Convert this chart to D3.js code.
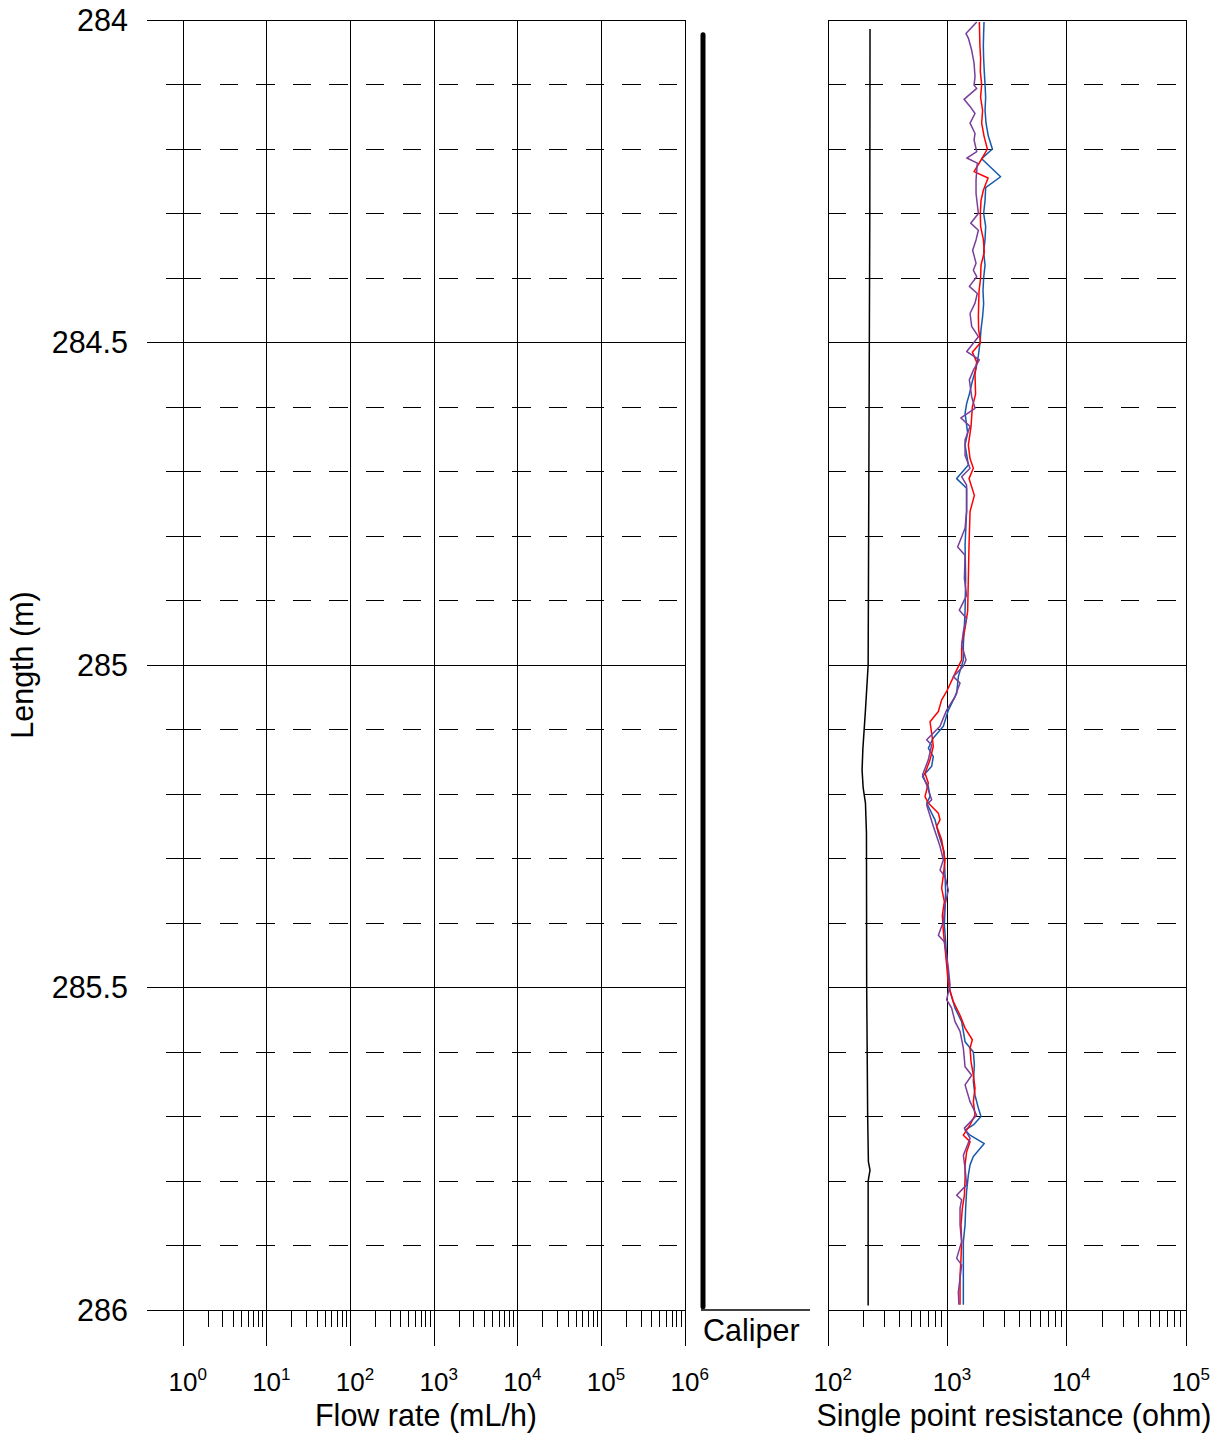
<!DOCTYPE html>
<html>
<head>
<meta charset="utf-8">
<script src="https://cdn.jsdelivr.net/npm/d3@7"></script>
<style>
  html, body { margin: 0; padding: 0; background: #fff; }
  svg { display: block; font-family: "Liberation Sans", Arial, Helvetica, sans-serif; }
</style>
</head>
<body>
<svg id="chart" width="1227" height="1436"></svg>
<script>
// ---- depth axis ----
const depthDomain = [284, 286];
const depthMajor = [284, 284.5, 285, 285.5, 286];
const depthMajorLabels = ["284", "284.5", "285", "285.5", "286"];
const depthMinor = [284.1, 284.2, 284.3, 284.4, 284.6, 284.7, 284.8, 284.9,
                    285.1, 285.2, 285.3, 285.4, 285.6, 285.7, 285.8, 285.9];

// ---- flow-rate axis (no measured flow in this interval) ----
const flowDomain = [1, 1e6];
const flowDecades = [0, 1, 2, 3, 4, 5, 6];

// ---- resistance axis ----
const resDomain = [1e2, 1e5];
const resDecades = [2, 3, 4, 5];

// ---- caliper (mm) ----
const caliperDepth = [284.023, 285.995];
const caliperValue = [56, 56];

// ---- single point resistance traces: [depth (m), resistance (ohm)] ----
const sprBlack = [
  [284.014, 225], [284.3, 224], [284.5, 222], [284.8, 219], [285.0, 217],
  [285.07, 206], [285.13, 196], [285.163, 193], [285.19, 197], [285.214, 206],
  [285.26, 210], [285.5, 211], [285.7, 215], [285.77, 218], [285.783, 225],
  [285.8, 217], [285.993, 217]
];

const sprBlue = [
  [284.003, 2030], [284.02, 2015], [284.04, 2003], [284.06, 2015], [284.08, 2040],
  [284.10, 2070], [284.12, 2095], [284.14, 2070], [284.16, 2110], [284.18, 2205],
  [284.20, 2385], [284.215, 1940], [284.243, 2795], [284.26, 2095], [284.28, 2070],
  [284.30, 2015], [284.32, 2095], [284.34, 2070], [284.36, 2015], [284.38, 2070],
  [284.40, 2015], [284.42, 1990], [284.44, 2015], [284.46, 1975], [284.48, 1915],
  [284.50, 1880], [284.52, 1820], [284.54, 1740], [284.56, 1620], [284.58, 1530],
  [284.595, 1450], [284.61, 1408], [284.64, 1480], [284.659, 1408], [284.69, 1500],
  [284.711, 1197], [284.726, 1450], [284.762, 1450], [284.814, 1408], [284.866, 1424],
  [284.917, 1408], [284.969, 1362], [284.992, 1362], [285.018, 1237], [285.044, 1197],
  [285.07, 1020], [285.095, 926], [285.113, 763], [285.129, 693], [285.142, 763],
  [285.157, 739], [285.173, 620], [285.188, 693], [285.204, 716], [285.214, 671],
  [285.24, 788], [285.261, 841], [285.289, 939], [285.326, 956], [285.351, 968],
  [285.377, 956], [285.403, 944], [285.429, 968], [285.455, 987], [285.481, 1020],
  [285.506, 1053], [285.532, 1160], [285.553, 1318], [285.568, 1362], [285.584, 1408],
  [285.60, 1652], [285.62, 1685], [285.646, 1652], [285.667, 1706], [285.687, 1820],
  [285.70, 1915], [285.713, 1652], [285.721, 1408], [285.729, 1550], [285.742, 2040],
  [285.762, 1652], [285.775, 1550], [285.791, 1500], [285.816, 1450], [285.842, 1424],
  [285.868, 1408], [285.894, 1362], [285.946, 1362], [285.992, 1362]
];

const sprRed = [
  [284.003, 1855], [284.02, 1865], [284.04, 1875], [284.06, 1900], [284.08, 1890],
  [284.10, 1940], [284.12, 1900], [284.14, 1975], [284.16, 1940], [284.18, 2030],
  [284.20, 2164], [284.212, 1990], [284.235, 1675], [284.245, 2195], [284.264, 2003],
  [284.28, 1915], [284.30, 1890], [284.32, 1900], [284.34, 2003], [284.36, 2040],
  [284.38, 1915], [284.40, 1900], [284.42, 1845], [284.44, 1830], [284.46, 1820],
  [284.48, 1830], [284.50, 1900], [284.515, 1620], [284.53, 1760], [284.55, 1706],
  [284.58, 1725], [284.60, 1620], [284.63, 1580], [284.659, 1500], [284.68, 1550],
  [284.695, 1652], [284.711, 1520], [284.737, 1685], [284.762, 1550], [284.814, 1520],
  [284.866, 1500], [284.917, 1480], [284.943, 1408], [284.969, 1318], [284.992, 1318],
  [285.013, 1160], [285.041, 987], [285.054, 896], [285.072, 841], [285.088, 716],
  [285.106, 739], [285.126, 763], [285.147, 716], [285.168, 650], [285.183, 693],
  [285.204, 650], [285.214, 693], [285.23, 841], [285.24, 868], [285.25, 814],
  [285.271, 896], [285.302, 956], [285.326, 926], [285.346, 896], [285.367, 944],
  [285.388, 908], [285.413, 926], [285.439, 956], [285.465, 987], [285.496, 1020],
  [285.522, 1123], [285.543, 1278], [285.563, 1408], [285.581, 1620], [285.594, 1550],
  [285.615, 1580], [285.636, 1652], [285.656, 1706], [285.677, 1652], [285.698, 1706],
  [285.713, 1550], [285.729, 1362], [285.739, 1550], [285.755, 1450], [285.775, 1408],
  [285.796, 1408], [285.822, 1390], [285.842, 1336], [285.868, 1302], [285.894, 1318],
  [285.92, 1302], [285.946, 1278], [285.992, 1278]
];

const sprPurple = [
  [284.003, 1764], [284.021, 1434], [284.028, 1500], [284.047, 1600], [284.067, 1675],
  [284.088, 1706], [284.101, 1675], [284.106, 1764], [284.123, 1380], [284.134, 1550],
  [284.145, 1706], [284.16, 1550], [284.176, 1706], [284.186, 1675], [284.204, 1764],
  [284.214, 1455], [284.222, 1784], [284.248, 1740], [284.269, 1740], [284.30, 1820],
  [284.315, 1570], [284.326, 1820], [284.341, 1740], [284.357, 1630], [284.377, 1740],
  [284.388, 1652], [284.398, 1764], [284.413, 1529], [284.424, 1784], [284.439, 1706],
  [284.455, 1550], [284.475, 1600], [284.491, 1820], [284.514, 1455], [284.527, 1855],
  [284.543, 1652], [284.558, 1529], [284.584, 1600], [284.602, 1706], [284.617, 1300],
  [284.63, 1550], [284.651, 1408], [284.675, 1408], [284.695, 1550], [284.708, 1318],
  [284.721, 1450], [284.762, 1450], [284.788, 1408], [284.817, 1220], [284.83, 1408],
  [284.866, 1390], [284.892, 1450], [284.915, 1261], [284.928, 1450], [284.948, 1362],
  [284.969, 1318], [284.992, 1434], [285.002, 1362], [285.018, 1123], [285.028, 1278],
  [285.049, 1160], [285.07, 987], [285.095, 868], [285.116, 671], [285.124, 739],
  [285.147, 693], [285.17, 620], [285.186, 671], [285.209, 739], [285.217, 671],
  [285.25, 763], [285.281, 868], [285.302, 926], [285.318, 868], [285.328, 956],
  [285.349, 1020], [285.372, 956], [285.398, 926], [285.419, 841], [285.429, 944],
  [285.45, 987], [285.47, 1020], [285.496, 1053], [285.519, 987], [285.532, 1087],
  [285.553, 1160], [285.568, 1278], [285.594, 1362], [285.623, 1408], [285.636, 1600],
  [285.651, 1408], [285.677, 1550], [285.698, 1760], [285.718, 1390], [285.734, 1550],
  [285.76, 1362], [285.78, 1408], [285.806, 1450], [285.822, 1197], [285.829, 1318],
  [285.842, 1278], [285.868, 1278], [285.894, 1318], [285.92, 1197], [285.93, 1318],
  [285.951, 1278], [285.972, 1237], [285.992, 1250]
];

const traceColors = { black: "#000000", blue: "#1559ad", red: "#ff0000", purple: "#7a3d9a" };

(function draw() {
  const svg = d3.select("#chart");
  const yTop = 20, yBottom = 1310;
  const y = d3.scaleLinear().domain(depthDomain).range([yTop, yBottom]);
  const xFlow = d3.scaleLog().domain(flowDomain).range([183, 685]);
  const xRes = d3.scaleLog().domain(resDomain).range([828, 1186]);
  const xCal = d3.scaleLinear().domain([50, 60]).range([688, 713]);

  const FONT = 30.5;
  const TICK_FONT = 26;
  const SUP_FONT = 17;
  const majorTickLen = 36, minorTickLen = 17;
  const dash = "18.3,18.3";

  function minorValues(decades) {
    const out = [];
    for (let i = 0; i < decades.length - 1; i++) {
      for (let m = 2; m <= 9; m++) out.push(m * Math.pow(10, decades[i]));
    }
    return out;
  }

  function drawPanel(g, x, decades, leftExtend) {
    const [x0, x1] = x.range();
    const grid = g.append("g").attr("shape-rendering", "crispEdges");
    // dashed minor depth grid
    grid.append("g").selectAll("line").data(depthMinor).join("line")
      .attr("x1", x0).attr("x2", x1)
      .attr("y1", d => y(d)).attr("y2", d => y(d))
      .attr("stroke", "#000").attr("stroke-width", 1)
      .attr("stroke-dasharray", dash);
    // solid major depth grid
    grid.append("g").selectAll("line").data(depthMajor).join("line")
      .attr("x1", x0 - leftExtend.major).attr("x2", x1)
      .attr("y1", d => y(d)).attr("y2", d => y(d))
      .attr("stroke", "#000").attr("stroke-width", 1);
    // short minor depth ticks left of axis
    if (leftExtend.minor > 0) {
      grid.append("g").selectAll("line").data(depthMinor).join("line")
        .attr("x1", x0 - leftExtend.minor).attr("x2", x0)
        .attr("y1", d => y(d)).attr("y2", d => y(d))
        .attr("stroke", "#000").attr("stroke-width", 1);
    }
    // vertical decade lines, extending below as major ticks
    grid.append("g").selectAll("line").data(decades).join("line")
      .attr("x1", d => x(Math.pow(10, d))).attr("x2", d => x(Math.pow(10, d)))
      .attr("y1", yTop).attr("y2", yBottom + majorTickLen)
      .attr("stroke", "#000").attr("stroke-width", 1);
    // minor log ticks
    grid.append("g").selectAll("line").data(minorValues(decades)).join("line")
      .attr("x1", d => x(d)).attr("x2", d => x(d))
      .attr("y1", yBottom).attr("y2", yBottom + minorTickLen)
      .attr("stroke", "#000").attr("stroke-width", 1);
    // decade labels 10^n
    const lab = g.append("g").selectAll("text").data(decades).join("text")
      .attr("x", d => x(Math.pow(10, d)) - 14.5)
      .attr("y", 1391)
      .attr("font-size", TICK_FONT)
      .attr("fill", "#000");
    lab.append("tspan").text("10");
    lab.append("tspan").attr("dy", -11).attr("font-size", SUP_FONT).text(d => d);
  }

  drawPanel(svg.append("g"), xFlow, flowDecades, { major: majorTickLen, minor: minorTickLen });
  drawPanel(svg.append("g"), xRes, resDecades, { major: 0, minor: 0 });

  // depth labels
  svg.append("g").selectAll("text").data(depthMajor).join("text")
    .attr("x", 128).attr("y", d => y(d))
    .attr("dy", "0.36em")
    .attr("text-anchor", "end")
    .attr("font-size", FONT)
    .text((d, i) => depthMajorLabels[i]);

  svg.append("text")
    .attr("transform", `translate(33,${y(285)}) rotate(-90)`)
    .attr("text-anchor", "middle")
    .attr("font-size", FONT)
    .text("Length (m)");

  // axis titles
  svg.append("text").attr("x", 426).attr("y", 1426)
    .attr("text-anchor", "middle").attr("font-size", FONT)
    .text("Flow rate (mL/h)");
  svg.append("text").attr("x", 1014).attr("y", 1426)
    .attr("text-anchor", "middle").attr("font-size", FONT)
    .text("Single point resistance (ohm)");

  // caliper track
  const caliperPts = caliperDepth.map((d, i) => [d, caliperValue[i]]);
  svg.append("path")
    .datum(caliperPts)
    .attr("d", d3.line().x(d => xCal(d[1])).y(d => y(d[0])))
    .attr("fill", "none").attr("stroke", "#000")
    .attr("stroke-width", 5).attr("stroke-linecap", "round");
  svg.append("line")
    .attr("x1", 701).attr("x2", 810)
    .attr("y1", y(286)).attr("y2", y(286))
    .attr("stroke", "#000").attr("stroke-width", 1.5);
  svg.append("text").attr("x", 703).attr("y", 1341)
    .attr("font-size", FONT).text("Caliper");

  // resistance traces
  const resLine = d3.line().x(d => xRes(d[1])).y(d => y(d[0]));
  const traces = [
    { data: sprBlack, color: traceColors.black, w: 1.5 },
    { data: sprBlue, color: traceColors.blue, w: 1.5 },
    { data: sprRed, color: traceColors.red, w: 1.5 },
    { data: sprPurple, color: traceColors.purple, w: 1.5 }
  ];
  svg.append("g").selectAll("path").data(traces).join("path")
    .attr("d", d => resLine(d.data))
    .attr("fill", "none")
    .attr("stroke", d => d.color)
    .attr("stroke-width", d => d.w)
    .attr("stroke-linejoin", "round");
})();
</script>
</body>
</html>
